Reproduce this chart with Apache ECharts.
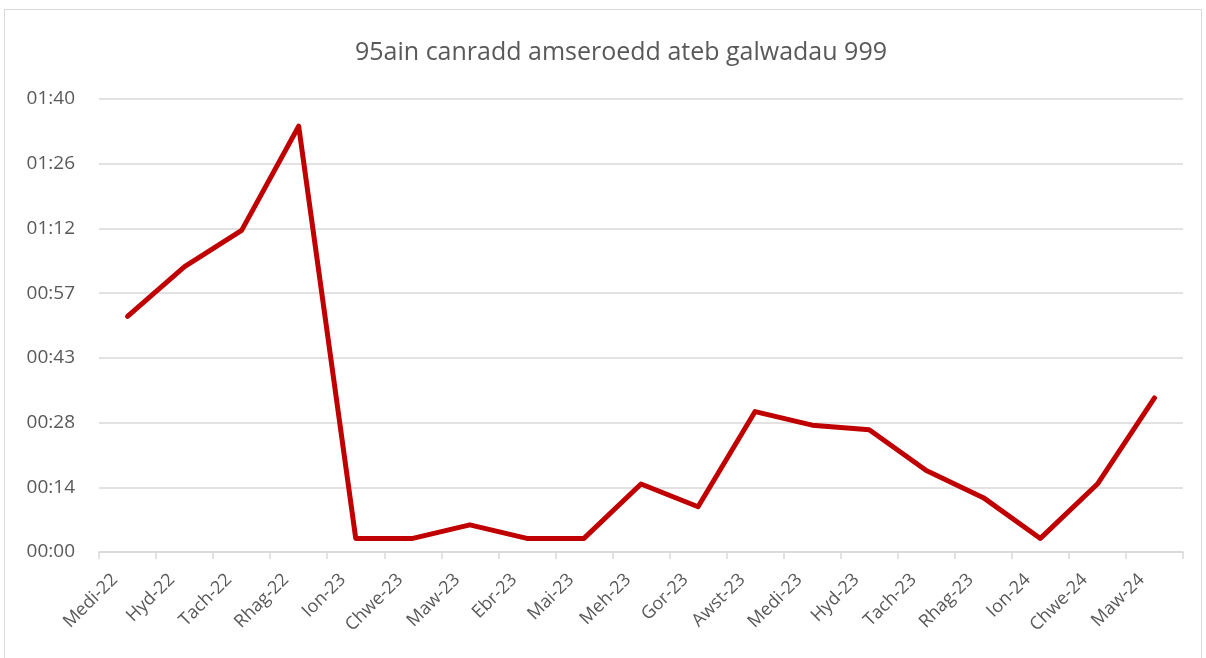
<!DOCTYPE html>
<html>
<head>
    <meta charset="utf-8">
    <title>95ain canradd amseroedd ateb galwadau 999</title>
    <script src="https://cdn.jsdelivr.net/npm/echarts@6/dist/echarts.min.js"></script>
    <style>
        body { margin: 0; background: #fff; }
        #frame { position: absolute; left: 4px; top: 9px; width: 1196px; height: 660px; border: 1px solid #d9d9d9; }
        #main { position: absolute; left: 0; top: 0; width: 1206px; height: 658px; }
    </style>
</head>
<body>
    <div id="frame"></div>
    <div id="main"></div>

    <script type="text/javascript">
        // categories (months)
        var months = ['Medi-22', 'Hyd-22', 'Tach-22', 'Rhag-22', 'Ion-23', 'Chwe-23', 'Maw-23', 'Ebr-23', 'Mai-23',
            'Meh-23', 'Gor-23', 'Awst-23', 'Medi-23', 'Hyd-23', 'Tach-23', 'Rhag-23', 'Ion-24', 'Chwe-24', 'Maw-24'];
        // 95th percentile answer time, seconds
        var seconds = [52, 63, 71, 94, 3, 3, 6, 3, 3, 15, 10, 31, 28, 27, 18, 12, 3, 15, 34];
        // y tick labels as shown (Excel-style mm:ss)
        var yTickLabels = ['00:00', '00:14', '00:28', '00:43', '00:57', '01:12', '01:26', '01:40'];
        var yMax = 100;

        var myChart = echarts.init(document.getElementById('main'));
        var step = yMax / (yTickLabels.length - 1);
        var font = '"Open Sans", "Noto Sans", sans-serif';

        var option = {
            backgroundColor: 'transparent',
            animation: false,
            title: {
                text: '95ain canradd amseroedd ateb galwadau 999',
                left: 616,
                top: 35,
                textAlign: 'center',
                textStyle: { fontFamily: font, fontSize: 25, fontWeight: 'normal', color: '#595959' }
            },
            grid: { left: 99, right: 23, top: 99, bottom: 106 },
            xAxis: {
                type: 'category',
                data: months,
                boundaryGap: true,
                axisLine: { lineStyle: { color: '#d9d9d9', width: 1.5 } },
                axisTick: { show: true, length: 7, lineStyle: { color: '#d9d9d9', width: 1.5 } },
                axisLabel: {
                    rotate: 45, interval: 0, margin: 12, padding: [0, 18, 0, 0],
                    fontFamily: font, fontSize: 18, color: '#595959'
                }
            },
            yAxis: {
                type: 'value',
                min: 0,
                max: yMax,
                interval: step,
                axisLine: { show: false },
                axisTick: { show: false },
                splitLine: { lineStyle: { color: '#d9d9d9', width: 1.5 } },
                axisLabel: {
                    margin: 24,
                    fontFamily: font, fontSize: 19, color: '#595959',
                    formatter: function (v) {
                        return yTickLabels[Math.round(v / step)] || '';
                    }
                }
            },
            series: [{
                type: 'line',
                data: seconds,
                symbol: 'none',
                lineStyle: { color: '#c00000', width: 5, join: 'round', cap: 'round' }
            }]
        };

        myChart.setOption(option);
    </script>
</body>
</html>
